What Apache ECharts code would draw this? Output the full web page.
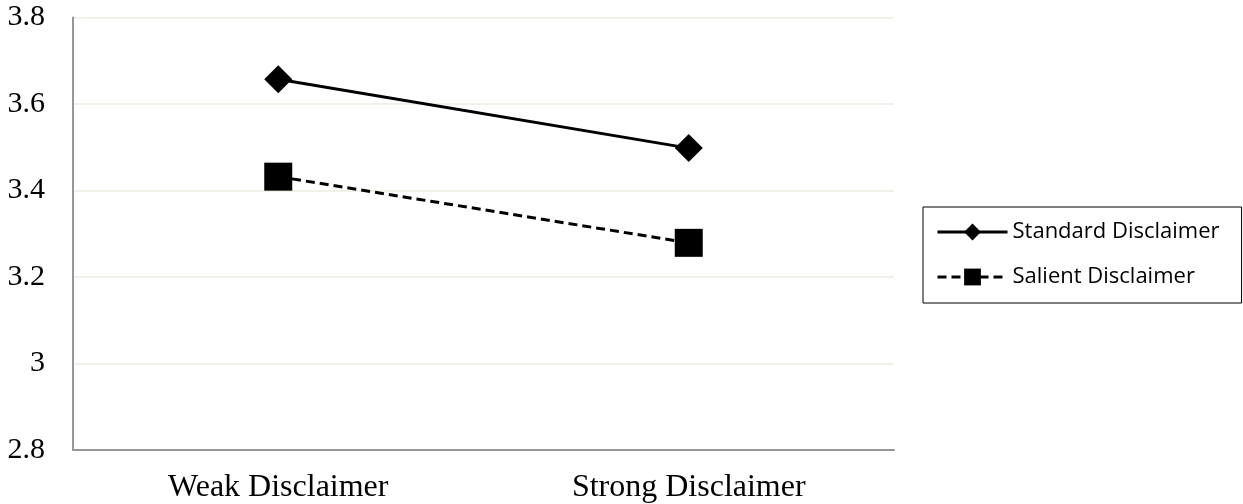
<!DOCTYPE html>
<html>
<head>
<meta charset="utf-8">
<script src="https://cdn.jsdelivr.net/npm/echarts@6/dist/echarts.min.js"></script>
<style>
html,body{margin:0;padding:0;background:#fff;}
#chart{width:1243px;height:504px;}
</style>
</head>
<body>
<div id="chart"></div>
<script>
const categories = ['Weak Disclaimer', 'Strong Disclaimer'];
const standardDisclaimer = [3.657, 3.498];
const salientDisclaimer = [3.432, 3.279];
const seriesNames = ['Standard Disclaimer', 'Salient Disclaimer'];

const chart = echarts.init(document.getElementById('chart'));
chart.setOption({
  animation: false,
  backgroundColor: '#ffffff',
  grid: { left: 73, right: 349, top: 17.5, bottom: 53.3, containLabel: false },
  legend: {
    orient: 'vertical',
    left: 923,
    top: 207,
    padding: [14, 22, 15, 13],
    itemGap: 23,
    itemWidth: 70,
    itemHeight: 21,
    borderColor: '#000',
    borderWidth: 1,
    lineStyle: { width: 3 },
    textStyle: { fontFamily: '"Open Sans", Lato, sans-serif', fontSize: 22, color: '#000' },
    data: seriesNames
  },
  xAxis: {
    type: 'category',
    data: categories,
    boundaryGap: true,
    axisLine: { lineStyle: { color: '#979797', width: 2 } },
    axisTick: { show: false },
    axisLabel: { fontFamily: '"Liberation Serif", "Times New Roman", serif', fontSize: 32, color: '#000', margin: 22 }
  },
  yAxis: {
    type: 'value',
    min: 2.8,
    max: 3.8,
    interval: 0.2,
    axisLine: { show: true, lineStyle: { color: '#979797', width: 2 } },
    axisTick: { show: false },
    splitLine: { lineStyle: { color: '#EDEBE2', width: 1.5 } },
    axisLabel: {
      fontFamily: '"Liberation Serif", "Times New Roman", serif', fontSize: 30, color: '#000', margin: 28,
      formatter: function (v) { return String(Math.round(v * 10) / 10); }
    }
  },
  series: [
    {
      name: seriesNames[0],
      type: 'line',
      data: standardDisclaimer,
      symbol: 'diamond',
      symbolSize: 28,
      color: '#000',
      itemStyle: { color: '#000' },
      lineStyle: { color: '#000', width: 3, type: 'solid' }
    },
    {
      name: seriesNames[1],
      type: 'line',
      data: salientDisclaimer,
      symbol: 'rect',
      symbolSize: 28,
      color: '#000',
      itemStyle: { color: '#000' },
      lineStyle: { color: '#000', width: 3, type: [9, 5] }
    }
  ]
});
</script>
</body>
</html>
